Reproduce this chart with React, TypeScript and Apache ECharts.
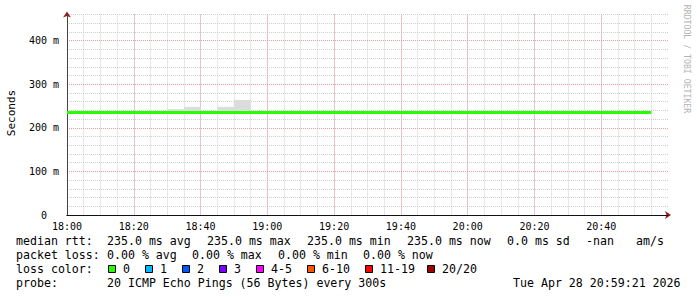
import React, { useEffect, useRef } from "react";
import * as echarts from "echarts";

// minutes after 18:00, one sample every 5 minutes
const medianRtt = [
  235, 235, 235, 235, 235, 235, 235, 235, 235, 235, 235, 235,
  235, 235, 235, 235, 235, 235, 235, 235, 235, 235, 235, 235,
  235, 235, 235, 235, 235, 235, 235, 235, 235, 235, 235, 235,
];
const stepMinutes = 5;
const smokeStart = [30, 35, 45, 50];
const smokeLow = [235, 235, 235, 235];
const smokeHigh = [243, 248, 248, 264];
const xTickLabels = ["18:00", "18:20", "18:40", "19:00", "19:20", "19:40", "20:00", "20:20", "20:40", "21:00"];

const lossLabels = ["0", "1", "2", "3", "4-5", "6-10", "11-19", "20/20"];
const lossColors = ["#26ff00", "#00b8ff", "#0059ff", "#7e00ff", "#ff00ff", "#ff5500", "#ff0000", "#a10000"];
const lossBoxX = [108, 145, 182, 219, 256, 307, 365, 427];

const rttLine = [
  { x: 16, t: "median rtt:" },
  { x: 107, t: "235.0 ms avg" },
  { x: 207, t: "235.0 ms max" },
  { x: 307, t: "235.0 ms min" },
  { x: 407, t: "235.0 ms now" },
  { x: 507, t: "0.0 ms sd" },
  { x: 586, t: "-nan" },
  { x: 636, t: "am/s" },
];
const lossLine = [
  { x: 16, t: "packet loss:" },
  { x: 107, t: "0.00 % avg" },
  { x: 192, t: "0.00 % max" },
  { x: 278, t: "0.00 % min" },
  { x: 363, t: "0.00 % now" },
];
const probeLine = [
  { x: 16, t: "probe:" },
  { x: 107, t: "20 ICMP Echo Pings (56 Bytes) every 300s" },
  { x: 513, t: "Tue Apr 28 20:59:21 2026" },
];

const MONO = "'DejaVu Sans Mono', monospace";
const GRAY = "#cfcfcf";
const RED = "#e8a0a0";

export default function App() {
  const ref = useRef<HTMLDivElement>(null);
  useEffect(() => {
    if (!ref.current) return;
    const chart = echarts.init(ref.current, undefined, { renderer: "svg" });
    const txt = (x: number, y: number, t: string) => ({
      type: "text",
      x,
      y,
      style: { text: t, font: `11.6px ${MONO}`, fill: "#000", verticalAlign: "middle" },
    });
    const graphics: any[] = [];
    rttLine.forEach((s) => graphics.push(txt(s.x, 241, s.t)));
    lossLine.forEach((s) => graphics.push(txt(s.x, 255, s.t)));
    graphics.push(txt(16, 269, "loss color:"));
    lossLabels.forEach((l, i) => {
      graphics.push({
        type: "rect",
        shape: { x: lossBoxX[i] + 0.5, y: 265.5, width: 7, height: 7 },
        style: { fill: lossColors[i], stroke: "#000", lineWidth: 1 },
      });
      graphics.push(txt(lossBoxX[i] + 15, 269, l));
    });
    probeLine.forEach((s) => graphics.push(txt(s.x, 283, s.t)));
    graphics.push({
      type: "text",
      x: 11,
      y: 113,
      rotation: Math.PI / 2,
      style: { text: "Seconds", font: `11px ${MONO}`, fill: "#000", align: "center", verticalAlign: "middle" },
    });
    graphics.push({
      type: "text",
      x: 687,
      y: 59,
      rotation: -Math.PI / 2,
      style: { text: "RRDTOOL / TOBI OETIKER", font: `8.2px ${MONO}`, fill: "#b4b4b4", align: "center", verticalAlign: "middle" },
    });

    chart.setOption({
      animation: false,
      grid: { left: 67, right: 29, top: 14.5, bottom: 82, containLabel: false },
      xAxis: [
        {
          type: "value", position: "bottom", min: 0, max: 180, interval: 5, z: 0,
          axisLabel: { show: false }, axisTick: { show: false },
          axisLine: { show: true, onZero: false, symbol: ["none", "arrow"], symbolSize: [6, 6], symbolOffset: [0, 3], lineStyle: { color: "#a01818", width: 1 } },
          splitLine: { show: true, showMinLine: false, showMaxLine: false, lineStyle: { color: GRAY, type: [1, 1], width: 1 } },
        },
        {
          type: "value", position: "bottom", min: 0, max: 180, interval: 20, z: 1,
          axisTick: { show: false },
          axisLine: { show: true, onZero: false, lineStyle: { color: "#111", width: 1 } },
          axisLabel: {
            show: true, showMaxLabel: false, margin: 6, fontFamily: MONO, fontSize: 10, color: "#000",
            formatter: (v: number) => xTickLabels[Math.round(v / 20)] ?? "",
          },
          splitLine: { show: true, showMinLine: false, showMaxLine: false, lineStyle: { color: RED, type: [1, 1], width: 1 } },
        },
      ],
      yAxis: [
        {
          type: "value", position: "left", min: 0, max: 460, interval: 20, z: 0,
          axisLabel: { show: false }, axisTick: { show: false },
          axisLine: { show: true, onZero: false, symbol: ["none", "arrow"], symbolSize: [6, 6], symbolOffset: [0, 3], lineStyle: { color: "#a01818", width: 1 } },
          splitLine: { show: true, showMinLine: false, lineStyle: { color: GRAY, type: [1, 1], width: 1 } },
        },
        {
          type: "value", position: "left", min: 0, max: 460, interval: 100, z: 1,
          axisTick: { show: false },
          axisLine: { show: true, onZero: false, lineStyle: { color: "#444", width: 1 } },
          axisLabel: {
            show: true, showMaxLabel: false, margin: 8, fontFamily: MONO, fontSize: 10, color: "#000",
            formatter: (v: number) => (v === 0 ? "{z|0}" : `${v} m`),
            rich: { z: { padding: [0, 12, 0, 0], fontFamily: MONO, fontSize: 10, color: "#000" } },
          },
          splitLine: { show: true, showMinLine: false, showMaxLine: false, lineStyle: { color: RED, type: [1, 1], width: 1 } },
        },
      ],
      series: [
        {
          type: "custom",
          xAxisIndex: 1,
          yAxisIndex: 1,
          z: 2,
          data: smokeStart.map((s, i) => [s, smokeLow[i], smokeHigh[i]]),
          renderItem: (params: any, api: any) => {
            const s = api.value(0);
            const p0 = api.coord([s, api.value(2)]);
            const p1 = api.coord([s + stepMinutes, api.value(1)]);
            return {
              type: "rect",
              shape: { x: p0[0], y: p0[1], width: p1[0] - p0[0], height: p1[1] - p0[1] },
              style: { fill: "#dcdcdc" },
            };
          },
        },
        {
          type: "line",
          xAxisIndex: 1,
          yAxisIndex: 1,
          z: 3,
          showSymbol: false,
          symbol: "none",
          data: medianRtt.map((v, i) => [i * stepMinutes, v]),
          lineStyle: { color: "#26ff00", width: 3 },
          itemStyle: { color: "#26ff00" },
        },
      ],
      graphic: graphics,
    });
    return () => chart.dispose();
  }, []);
  return <div ref={ref} style={{ position: "fixed", left: 0, top: 0, width: 697, height: 297, background: "#fff" }} />;
}
